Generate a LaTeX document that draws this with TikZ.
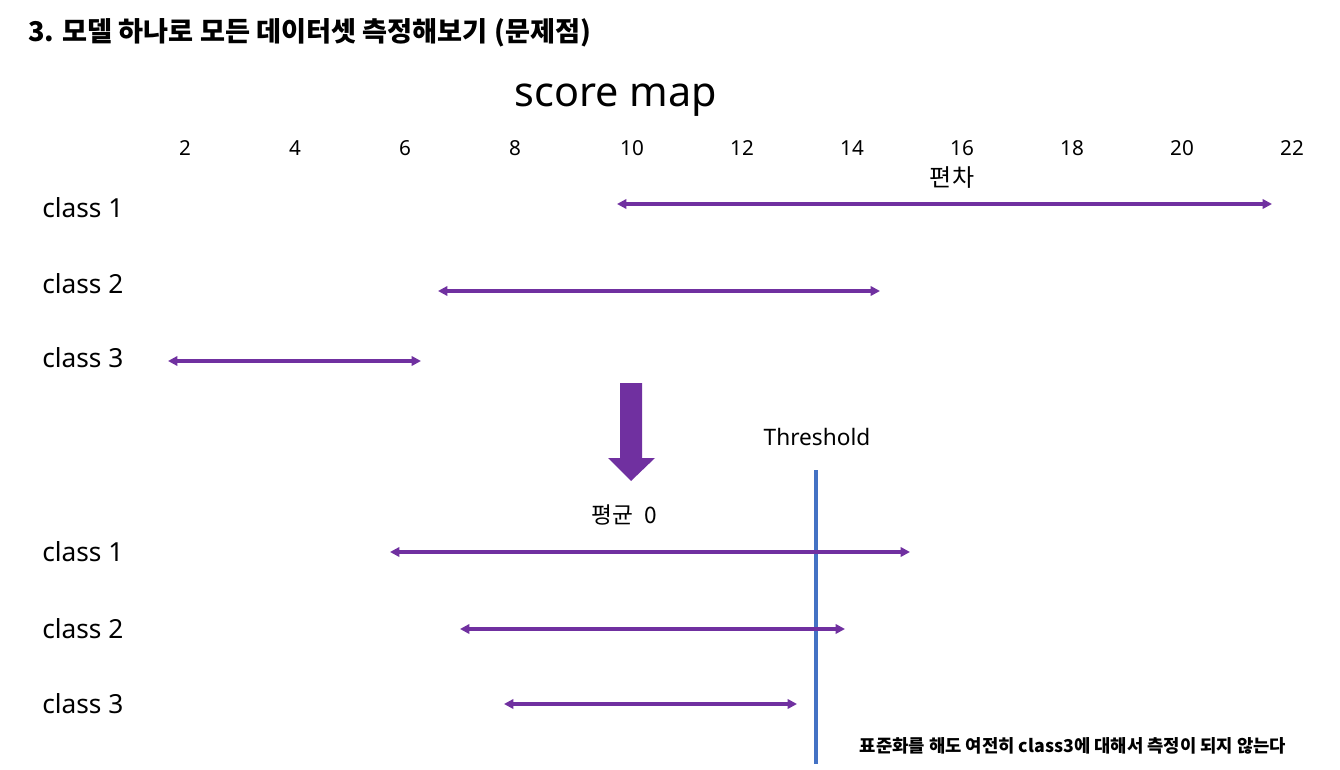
\documentclass[tikz,border=0pt]{standalone}
\usepackage{fontspec}
\setmainfont{Noto Sans}
\newfontfamily\kr{Noto Sans CJK KR}
\usetikzlibrary{arrows.meta}
\definecolor{pur}{HTML}{7030A0}
\definecolor{blu}{HTML}{4472C4}
\begin{document}
\begin{tikzpicture}[x=0.75pt,y=-0.75pt,
  rng/.style={draw=pur,line width=2.5pt,{Triangle[length=7pt,width=7pt]}-{Triangle[length=7pt,width=7pt]}},
  cls/.style={anchor=west,font=\fontsize{19.7}{22}\selectfont,inner sep=0pt},
  tick/.style={font=\fontsize{15.5}{17}\selectfont,inner sep=0pt}]
\useasboundingbox[fill=white] (0,0) rectangle (1340,770);
\node[anchor=west,inner sep=0pt,font=\kr\bfseries\fontsize{20.4}{24}\selectfont] (title) at (28,33) {3. 모델 하나로 모든 데이터셋 측정해보기 (문제점)};
\node[inner sep=0pt,font=\fontsize{31}{34}\selectfont] (sm) at (616,100) {score map};
\foreach \v/\x in {2/185,4/295,6/405,8/515,10/632,12/742,14/852,16/962,18/1072,20/1182,22/1292}
  \node[tick] (t\v) at (\x,148) {\v};
\node[inner sep=0pt,font=\kr\fontsize{18}{20}\selectfont] (pc) at (952,178) {편차};
\node[cls] (a1) at (42,208) {class 1};
\node[cls] (a2) at (42,284) {class 2};
\node[cls] (a3) at (42,358) {class 3};
\coordinate (a1s) at (617,204); \coordinate (a1e) at (1272,204);
\coordinate (a2s) at (438,291); \coordinate (a2e) at (880,291);
\coordinate (a3s) at (168,361); \coordinate (a3e) at (421,361);
\draw[rng] (a1s) -- (a1e);
\draw[rng] (a2s) -- (a2e);
\draw[rng] (a3s) -- (a3e);
\fill[pur] (620,383) -- (642,383) -- (642,458) -- (655,458) -- (631,481) -- (608,458) -- (620,458) -- cycle;
\node[inner sep=0pt,font=\fontsize{17}{19}\selectfont] (th) at (817,437) {Threshold};
\coordinate (ltop) at (816,470); \coordinate (lbot) at (816,764);
\draw[blu,line width=2.3pt] (ltop) -- (lbot);
\node[inner sep=0pt,font=\kr\fontsize{17}{19}\selectfont] (mu) at (624,515) {평균\hspace{0.5em}0};
\node[cls] (b1) at (42,552) {class 1};
\node[cls] (b2) at (42,629) {class 2};
\node[cls] (b3) at (42,704) {class 3};
\coordinate (b1s) at (390,552); \coordinate (b1e) at (910,552);
\coordinate (b2s) at (460,629); \coordinate (b2e) at (845,629);
\coordinate (b3s) at (504,704); \coordinate (b3e) at (797,704);
\draw[rng] (b1s) -- (b1e);
\draw[rng] (b2s) -- (b2e);
\draw[rng] (b3s) -- (b3e);
\node[inner sep=0pt,font=\kr\bfseries\fontsize{13.3}{15}\selectfont] (note) at (1073,746) {표준화를 해도 여전히 class3에 대해서 측정이 되지 않는다};
\end{tikzpicture}
\end{document}
